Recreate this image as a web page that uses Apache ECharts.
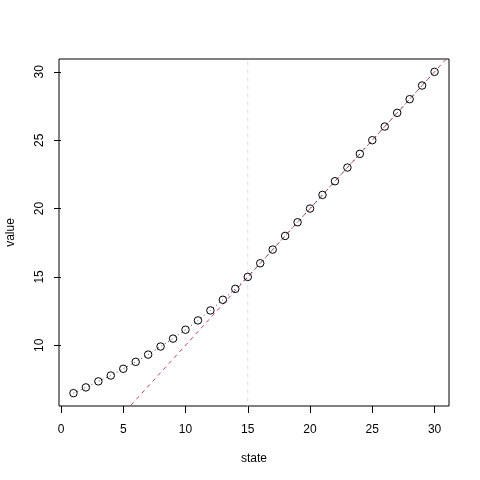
<!DOCTYPE html>
<html>
<head>
<meta charset="utf-8">
<script src="https://cdn.jsdelivr.net/npm/echarts@6/dist/echarts.min.js"></script>
<style>html,body{margin:0;padding:0;background:#fff}#c{width:480px;height:480px}</style>
</head>
<body>
<div id="c"></div>
<script>
var states = [1,2,3,4,5,6,7,8,9,10,11,12,13,14,15,16,17,18,19,20,21,22,23,24,25,26,27,28,29,30];
var values = [6.50,6.92,7.36,7.79,8.28,8.79,9.32,9.91,10.49,11.14,11.82,12.55,13.33,14.13,15,16,17,18,19,20,21,22,23,24,25,26,27,28,29,30];
var xTicks = [0,5,10,15,20,25,30];
var yTicks = [10,15,20,25,30];
var refLine = [[0,0],[35,35]];
var cutX = 15;

var pts = states.map(function(s,i){return [s, values[i]];});
var font = 'Liberation Sans, Arial, sans-serif';
var chart = echarts.init(document.getElementById('c'), null, {renderer:'canvas'});
chart.setOption({
  animation:false,
  backgroundColor:'#fff',
  grid:{left:59,right:31,top:59,bottom:74,containLabel:false,outerBoundsMode:'none',show:true,borderColor:'#000',borderWidth:1,backgroundColor:'transparent'},
  xAxis:{type:'value',min:-0.16,max:31.16,
    name:'state',nameLocation:'middle',nameGap:47,
    nameTextStyle:{fontFamily:font,fontSize:12,color:'#000'},
    axisLine:{show:false},splitLine:{show:false},
    axisTick:{show:true,length:7,lineStyle:{color:'#000'},customValues:xTicks},
    axisLabel:{fontFamily:font,fontSize:12,color:'#000',margin:18,customValues:xTicks,formatter:function(v){return String(v);}}
  },
  yAxis:{type:'value',min:5.56,max:30.94,
    name:'value',nameLocation:'middle',nameGap:42,nameRotate:90,
    nameTextStyle:{fontFamily:font,fontSize:12,color:'#000'},
    axisLine:{show:false},splitLine:{show:false},
    axisTick:{show:true,length:7,lineStyle:{color:'#000'},customValues:yTicks},
    axisLabel:{fontFamily:font,fontSize:12,color:'#000',margin:13,rotate:90,customValues:yTicks,formatter:function(v){return String(v);}}
  },
  series:[
    {type:'line',data:[[cutX,-100],[cutX,100]],symbol:'none',silent:true,clip:true,
     lineStyle:{color:'#dddddd',width:1,type:[4,4]},z:1},
    {type:'line',data:refLine,symbol:'none',silent:true,clip:true,
     lineStyle:{color:'#c0405e',width:1,type:[4,4]},z:2},
    {type:'line',data:pts,symbol:'none',clip:false,
     lineStyle:{color:'#444',width:1,type:[1,3]},z:3},
    {type:'scatter',data:pts,symbol:'circle',symbolSize:7.5,clip:false,
     itemStyle:{color:'rgba(255,255,255,0)',borderColor:'#000',borderWidth:1,opacity:1},z:4}
  ]
});
</script>
</body>
</html>
